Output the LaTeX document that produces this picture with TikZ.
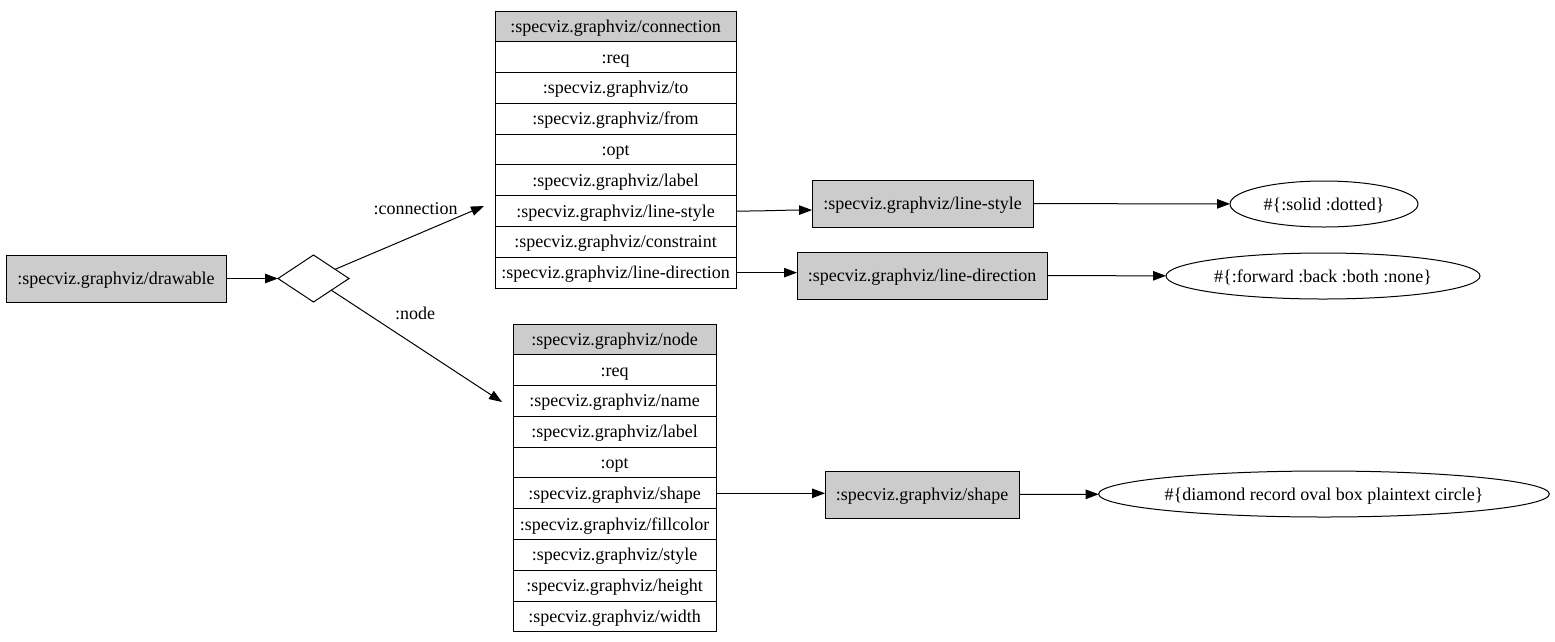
\documentclass[tikz,border=0pt]{standalone}
\usepackage{fontspec}
\setmainfont{Liberation Serif}
\usetikzlibrary{arrows.meta,positioning,shapes.geometric}

\begin{document}
\begin{tikzpicture}[x=1pt, y=-1pt, line width=1pt, >={Triangle[length=13pt,width=9.5pt]},
    every node/.style={font=\rmfamily\fontsize{18}{20}\selectfont, inner sep=0pt, outer sep=0pt, text height=14pt, text depth=2pt},
    box/.style={draw, fill=black!20, minimum height=47pt},
    cell/.style={draw, minimum height=30.78pt},
    set/.style={draw, ellipse, minimum height=46pt}]
    \useasboundingbox (0,0) rectangle (1555,641);

    \node[box, minimum width=220pt] (dr) at (116,278.5) {:specviz.graphviz/drawable};
    \node[draw, diamond, minimum width=71pt, minimum height=47pt] (d) at (313.5,278.5) {};
    \draw [->] (dr) -- (d);

    % connection table
    \node[cell, fill=black!20, minimum width=241pt, anchor=north] (c0) at (615.5,11) {:specviz.graphviz/connection};
    \foreach \t [count=\i, remember=\i as \j (initially 0)] in {:req, :specviz.graphviz/to, :specviz.graphviz/from, :opt, :specviz.graphviz/label, :specviz.graphviz/line-style, :specviz.graphviz/constraint, :specviz.graphviz/line-direction}
        \node[cell, minimum width=241pt, below=0pt of c\j] (c\i) {\t};

    % node table
    \node[cell, fill=black!20, minimum width=203pt, anchor=north] (n0) at (614.5,324) {:specviz.graphviz/node};
    \foreach \t [count=\i, remember=\i as \j (initially 0)] in {:req, :specviz.graphviz/name, :specviz.graphviz/label, :opt, :specviz.graphviz/shape, :specviz.graphviz/fillcolor, :specviz.graphviz/style, :specviz.graphviz/height, :specviz.graphviz/width}
        \node[cell, minimum width=203pt, below=0pt of n\j] (n\i) {\t};

    \coordinate (ct) at (484,206);
    \coordinate (nt) at (502,402);
    \draw [->] (d) -- (ct) node [pos=0.5, xshift=6pt, yshift=29.5pt] {:connection};
    \draw [->] (d) -- (nt) node [pos=0.5, xshift=-1.5pt, yshift=33pt] {:node};

    \node[box, minimum width=221pt] (ls) at (922.5,203.5) {:specviz.graphviz/line-style};
    \node[box, minimum width=250pt] (ld) at (922,275.5) {:specviz.graphviz/line-direction};
    \node[box, minimum width=194pt] (sh) at (922,494.5) {:specviz.graphviz/shape};
    \draw [->] (c6.east) to[out=0, in=180] ([yshift=1pt]c6.east -| ls.west);
    \draw [->] (c8.east) -- (c8.east -| ld.west);
    \draw [->] (n5.east) -- (n5.east -| sh.west);

    \node[set, minimum width=188pt] (e1) at (1324,204) {\#\{:solid :dotted\}};
    \node[set, minimum width=314pt] (e2) at (1323,276) {\#\{:forward :back :both :none\}};
    \node[set, minimum width=448pt] (e3) at (1324,494) {\#\{diamond record oval box plaintext circle\}};
    \draw [->] (ls) -- (e1);
    \draw [->] (ld) -- (e2);
    \draw [->] (sh) -- (e3);
\end{tikzpicture}
\end{document}
